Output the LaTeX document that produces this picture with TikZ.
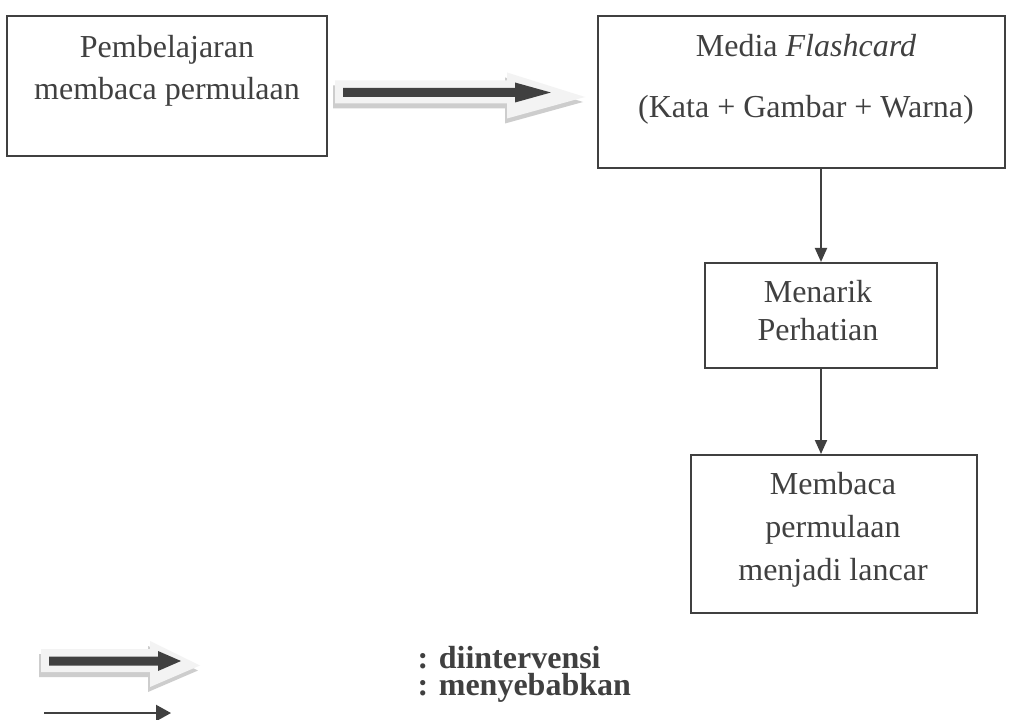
\documentclass[tikz,border=0pt]{standalone}
\usepackage{fontspec}
\setmainfont{Liberation Serif}
\usetikzlibrary{positioning, arrows.meta, calc}

\definecolor{abu}{RGB}{64,64,64}
\definecolor{abumuda}{RGB}{243,243,243}
\definecolor{bayang}{RGB}{205,205,205}

\tikzset{
  kotak/.style={draw=abu, line width=0.75pt, rectangle, inner sep=0pt},
  isi/.style={text=abu, align=center, inner sep=0pt, anchor=base},
  panah/.style={draw=abu, line width=0.75pt, -{Triangle[length=5.25pt,width=4.5pt]}},
  ket/.style={text=abu, anchor=base west, inner sep=0pt, font=\fontsize{12}{10}\selectfont\bfseries},
}

% panah tebal: #1 = titik awal, #2 = panjang batang, #3 = panjang kepala terang
\newcommand{\panahtebal}[3]{
  \begin{scope}[shift={#1}]
    \fill[bayang] (-10,-7) -- (#2-10,-7) -- (#2-10,-15) -- (#2-10+#3,9.5) -- (#2-10,31) -- (#2-10,16) -- (-10,16) -- cycle;
    \fill[abumuda] (-8,-12) -- (#2-8,-12) -- (#2-8,-20) -- (#2-8+#3,4.5) -- (#2-8,26) -- (#2-8,11) -- (-8,11) -- cycle;
    \fill[abu] (0,-4.5) -- (#2,-4.5) -- (#2,-10) -- (#2+0.46*#3,0) -- (#2,10) -- (#2,4.5) -- (0,4.5) -- cycle;
  \end{scope}
}

\begin{document}
\begin{tikzpicture}[x=0.375pt, y=-0.375pt]
\fill[white] (0,0) rectangle (1017,720);
\useasboundingbox (0,0) rectangle (1017,720);

% kotak
\node[kotak, minimum width=120pt, minimum height=52.5pt] (belajar) at (167,86) {};
\node[kotak, minimum width=152.6pt, minimum height=57pt] (media) at (801.5,92) {};
\node[kotak, minimum width=87pt, minimum height=39.4pt] (tarik) at (821,315.5) {};
\node[kotak, minimum width=107.25pt, minimum height=59.25pt] (lancar) at (834,534) {};

% isi kotak (base = baris terakhir)
\node[isi, font=\fontsize{12}{16.1}\selectfont] (tbelajar) at (167,100) {Pembelajaran\\membaca permulaan};
\node[isi, font=\fontsize{12}{16.1}\selectfont] (tmedia) at (806,118) {Media \textit{Flashcard}\\[6.8pt](Kata + Gambar + Warna)};
\node[isi, font=\fontsize{12}{13.9}\selectfont] (ttarik) at (818,340) {Menarik\\Perhatian};
\node[isi, font=\fontsize{12}{16.1}\selectfont] (tlancar) at (833,580) {Membaca\\permulaan\\menjadi lancar};

% panah
\panahtebal{(343,92.5)}{172}{78}
\draw[panah] (media.south -| tarik.north) -- (tarik.north);
\draw[panah] (tarik.south) -- (tarik.south |- lancar.north);

% keterangan
\panahtebal{(49,661)}{109}{50}
\coordinate (k1) at (44,713);
\coordinate (k2) at (171,713);
\draw[draw=abu, line width=0.75pt, -{Triangle[length=5.6pt,width=6pt]}] (k1) -- (k2);
\node[ket] (ket1) at (417,668) {: diintervensi};
\node[ket] (ket2) at (417,695) {: menyebabkan};
\end{tikzpicture}
\end{document}
